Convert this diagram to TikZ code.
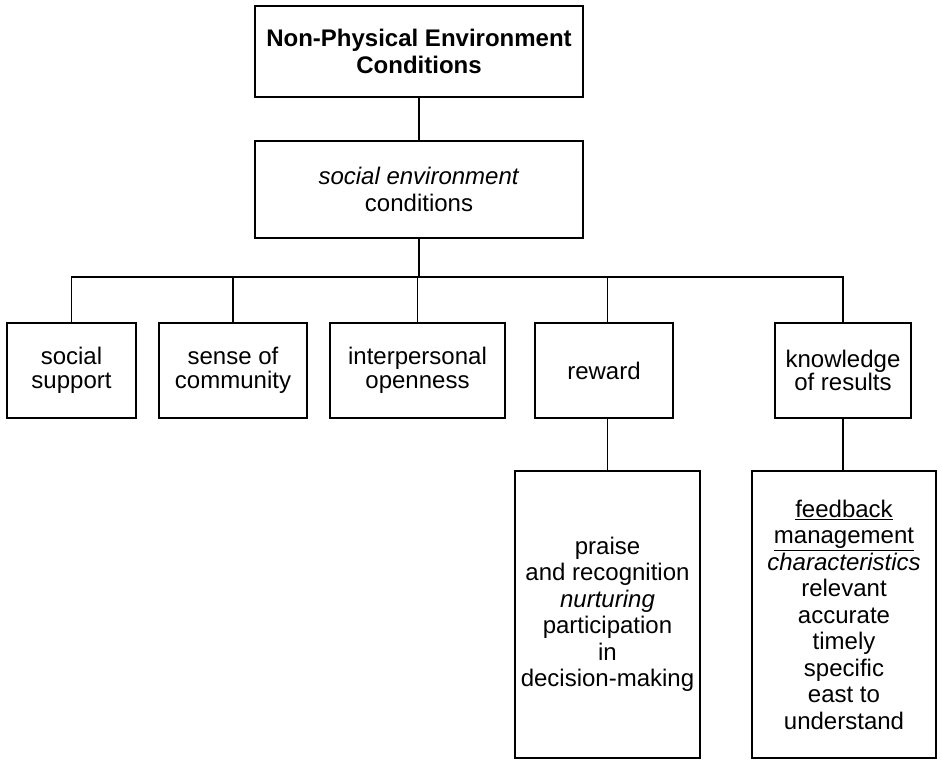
\documentclass[tikz,border=0pt]{standalone}
\usepackage{fontspec}
\setmainfont{Liberation Sans}
\begin{document}
\begin{tikzpicture}[x=1pt,y=-1pt,
  box/.style={draw, line width=1.5pt, rectangle, align=center, inner sep=0pt, font=\fontsize{24}{26.5}\selectfont},
  small/.style={box, font=\fontsize{24}{23.5}\selectfont},
  conn/.style={line width=1.5pt}]
\useasboundingbox (0,0) rectangle (942,760);
\node[box, minimum width=328, minimum height=91, font=\fontsize{24}{27}\selectfont] (top) at (419,51.5) {\textbf{Non-Physical Environment}\\\textbf{Conditions}};
\node[box, minimum width=328, minimum height=97] (sec) at (419,189.5) {\textit{social environment}\\conditions};
\node[small, minimum width=129, minimum height=95] (ss) at (71.5,370.5) {social\\support};
\node[small, minimum width=148, minimum height=95] (soc) at (233,370.5) {sense of\\community};
\node[small, minimum width=175, minimum height=95] (io) at (417.5,370.5) {interpersonal\\openness};
\node[small, minimum width=138, minimum height=95] (rw) at (604,370.5) {reward};
\node[small, minimum width=136, minimum height=95] (kr) at (843,370.5) {knowledge\\of results};
\node[box, minimum width=185, minimum height=287] (pr) at (607.5,614.5) {praise\\and recognition\\\textit{nurturing}\\participation\\in\\decision-making};
\node[box, minimum width=184, minimum height=287] (fb) at (844,614.5) {\underline{feedback}\\\underline{management}\\\textit{characteristics}\\relevant\\accurate\\timely\\specific\\east to\\understand};
\coordinate (bus) at (419,277);
\draw[conn] (top.south) -- (sec.south |- top.south) -- (sec.north);
\draw[conn] (sec.south) -- (bus);
\draw[conn] (ss.north) |- (bus) -| (kr.north);
\draw[conn] (soc.north) -- (soc.north |- bus);
\draw[conn] (io.north) -- (io.north |- bus);
\draw[conn] (pr.north |- rw.north) -- (pr.north |- bus);
\draw[conn] (pr.north) -- (pr.north |- rw.south);
\draw[conn] (kr.south) -- (kr.south |- fb.north);
\end{tikzpicture}
\end{document}
